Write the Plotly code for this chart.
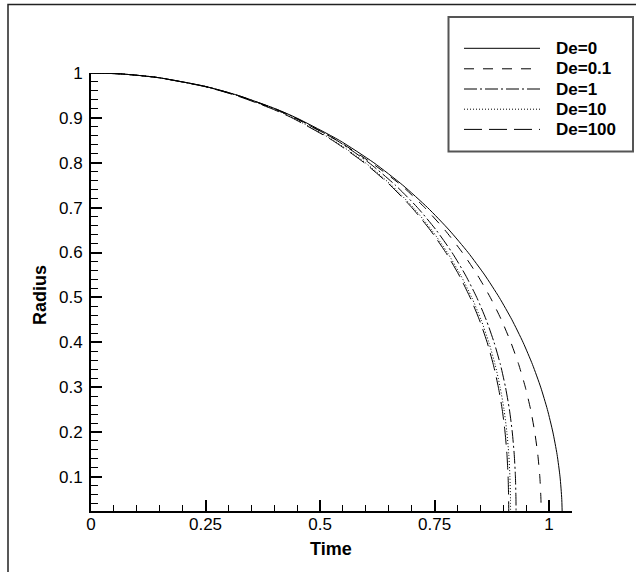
import plotly.graph_objects as go

# Bubble radius levels shared by all curves, and the time at which each curve reaches them
radius = [1.0, 0.998, 0.99, 0.97, 0.95, 0.92, 0.9, 0.85, 0.8, 0.75, 0.7, 0.65, 0.6,
          0.55, 0.5, 0.45, 0.4, 0.35, 0.3, 0.25, 0.2, 0.15, 0.1, 0.05, 0.0]

time_de0 = [0.0, 0.0650, 0.1452, 0.2501, 0.3213, 0.4033, 0.4485, 0.5421, 0.6174, 0.6806,
            0.7348, 0.7819, 0.8232, 0.8594, 0.8911, 0.9189, 0.9431, 0.9639, 0.9816,
            0.9963, 1.0082, 1.0174, 1.0239, 1.0277, 1.0290]
time_de01 = [0.0, 0.0650, 0.1450, 0.2495, 0.3195, 0.4000, 0.4445, 0.5370, 0.6120, 0.6771,
             0.7285, 0.7726, 0.8106, 0.8434, 0.8716, 0.8958, 0.9164, 0.9338, 0.9481,
             0.9597, 0.9686, 0.9753, 0.9798, 0.9822, 0.9830]
time_de1 = [0.0, 0.0656, 0.1450, 0.2500, 0.3205, 0.4026, 0.4466, 0.5362, 0.6068, 0.6645,
            0.7128, 0.7535, 0.7881, 0.8173, 0.8420, 0.8627, 0.8798, 0.8938, 0.9048,
            0.9134, 0.9196, 0.9239, 0.9265, 0.9277, 0.9280]
time_de10 = [0.0, 0.0648, 0.1443, 0.2481, 0.3178, 0.3974, 0.4408, 0.5293, 0.5990, 0.6559,
             0.7036, 0.7438, 0.7779, 0.8067, 0.8311, 0.8515, 0.8684, 0.8822, 0.8931,
             0.9016, 0.9078, 0.9120, 0.9145, 0.9157, 0.9160]
time_de100 = [0.0, 0.0645, 0.1436, 0.2470, 0.3164, 0.3956, 0.4389, 0.5270, 0.5964, 0.6531,
              0.7005, 0.7405, 0.7745, 0.8032, 0.8275, 0.8478, 0.8647, 0.8783, 0.8892,
              0.8977, 0.9038, 0.9080, 0.9105, 0.9117, 0.9120]

series_names = ["De=0", "De=0.1", "De=1", "De=10", "De=100"]
series_times = [time_de0, time_de01, time_de1, time_de10, time_de100]
series_dash = ["solid", "10px,9px", "13px,3px,2px,3px", "1px,2px", "18px,7px"]

x_range = [0, 1.05]
y_range = [0.024, 1.0]

W, H = 636, 572
PL, PR, PT, PB = 91, 572, 73, 511  # plot area in pixels


def px2x(px):
    return (px - PL) / (PR - PL)


def py2y(py):
    return (PB - py) / (PB - PT)


FONT = "Liberation Sans, Arial, sans-serif"

fig = go.Figure()
for name, t, dash in zip(series_names, series_times, series_dash):
    fig.add_trace(go.Scatter(
        x=t, y=radius, mode="lines", name=name,
        line=dict(color="black", width=1, dash=dash, shape="spline", smoothing=0.6),
        showlegend=False,
    ))

shapes = []
annotations = []

# outer frame
shapes.append(dict(type="rect", xref="paper", yref="paper",
                   x0=px2x(8), x1=px2x(700), y0=py2y(640), y1=py2y(4.5),
                   line=dict(color="#222", width=1.5), fillcolor="rgba(0,0,0,0)",
                   layer="below"))

# legend box
shapes.append(dict(type="rect", xref="paper", yref="paper",
                   x0=px2x(448.5), x1=px2x(633), y0=py2y(151.5), y1=py2y(17),
                   line=dict(color="#555", width=2), fillcolor="white"))
rows = [48.3, 68.8, 89.0, 109.2, 129.4]
for name, dash, ry in zip(series_names, series_dash, rows):
    shapes.append(dict(type="line", xref="paper", yref="paper",
                       x0=px2x(464), x1=px2x(540), y0=py2y(ry), y1=py2y(ry),
                       line=dict(color="black", width=1, dash=dash)))
    annotations.append(dict(xref="paper", yref="paper", x=px2x(554), y=py2y(ry),
                            text="<b>" + name + "</b>", showarrow=False,
                            xanchor="left", yanchor="middle",
                            font=dict(family=FONT, size=17, color="black")))

# axis titles
annotations.append(dict(xref="paper", yref="paper", x=px2x(331), y=py2y(549),
                        text="<b>Time</b>", showarrow=False, xanchor="center",
                        yanchor="middle", font=dict(family=FONT, size=18, color="black")))
annotations.append(dict(xref="paper", yref="paper", x=px2x(40), y=py2y(295),
                        text="<b>Radius</b>", showarrow=False, textangle=-90,
                        xanchor="center", yanchor="middle",
                        font=dict(family=FONT, size=18, color="black")))

fig.update_layout(
    width=W, height=H,
    margin=dict(l=PL, r=W - PR, t=PT, b=H - PB, pad=0),
    paper_bgcolor="white", plot_bgcolor="white",
    font=dict(family=FONT, size=17, color="black"),
    shapes=shapes, annotations=annotations,
    showlegend=False,
)
fig.update_xaxes(
    range=x_range, tick0=0, dtick=0.25, ticks="inside", ticklen=11, tickwidth=2,
    tickcolor="black", showline=True, linewidth=2, linecolor="black",
    showgrid=False, zeroline=False, ticklabelstandoff=-3,
    tickfont=dict(family=FONT, size=17, color="black"),
    minor=dict(tick0=0, dtick=0.05, ticks="inside", ticklen=6, tickwidth=1,
               tickcolor="black", showgrid=False),
)
fig.update_yaxes(
    range=y_range, tick0=0, dtick=0.1, ticks="inside", ticklen=11, tickwidth=2,
    tickcolor="black", showline=True, linewidth=2, linecolor="black",
    showgrid=False, zeroline=False, ticklabelstandoff=3,
    tickfont=dict(family=FONT, size=17, color="black"),
    minor=dict(tick0=0, dtick=0.02, ticks="inside", ticklen=7, tickwidth=1,
               tickcolor="black", showgrid=False),
)

fig.write_html("out.html")
